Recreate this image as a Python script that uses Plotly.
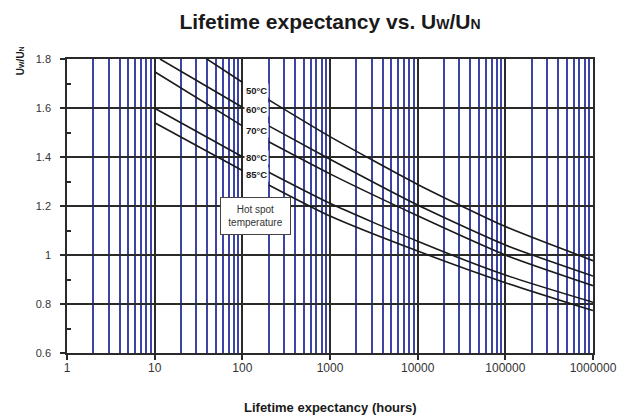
import numpy as np
import plotly.graph_objects as go

# ---- data ----
temps = ["50°C", "60°C", "70°C", "80°C", "85°C"]

# left segments (before label gap)
left_x = {
    "50°C": [34, 100],
    "60°C": [11.5, 100],
    "70°C": [10, 100],
    "80°C": [10, 100],
    "85°C": [10, 100],
}
left_y = {
    "50°C": [1.815, 1.705],
    "60°C": [1.80, 1.603],
    "70°C": [1.748, 1.527],
    "80°C": [1.599, 1.401],
    "85°C": [1.540, 1.345],
}
# right segments (after label gap)
right_x = [200, 1000, 10000, 100000, 1000000]
right_y = {
    "50°C": [1.633, 1.483, 1.288, 1.116, 0.977],
    "60°C": [1.527, 1.391, 1.204, 1.041, 0.914],
    "70°C": [1.462, 1.331, 1.160, 1.000, 0.875],
    "80°C": [1.338, 1.211, 1.056, 0.918, 0.807],
    "85°C": [1.286, 1.159, 1.016, 0.887, 0.773],
}
label_y = {"50°C": 1.673, "60°C": 1.592, "70°C": 1.510, "80°C": 1.396, "85°C": 1.327}

x_tickvals = [1, 10, 100, 1000, 10000, 100000, 1000000]
x_ticktext = ["1", "10", "100", "1000", "10000", "100000", "1000000"]
y_tickvals = [0.6, 0.8, 1.0, 1.2, 1.4, 1.6, 1.8]
y_ticktext = ["0.6", "0.8", "1", "1.2", "1.4", "1.6", "1.8"]

FONT = "Liberation Sans, Arial, sans-serif"
BLACK = "#2a2a2a"
BLUE = "#3c45a6"

# page body has an 8px margin: figure is drawn 8px right/down of the window origin
W, H = 622, 410

fig = go.Figure()
for t in temps:
    xs = left_x[t] + [None] + right_x
    ys = left_y[t] + [None] + right_y[t]
    fig.add_trace(go.Scatter(x=xs, y=ys, mode="lines", connectgaps=False,
                             line=dict(color="#1a1a1a", width=1.6, shape="spline", smoothing=0.6),
                             showlegend=False, hoverinfo="skip"))

# invisible trace for secondary y axis (inside ticks)
fig.add_trace(go.Scatter(x=[1], y=[1], yaxis="y2", mode="markers",
                         marker=dict(opacity=0), showlegend=False, hoverinfo="skip"))

annotations = []
for t in temps:
    annotations.append(dict(x=np.log10(104), y=label_y[t], xref="x", yref="y",
                            text="<b>%s</b>" % t, showarrow=False, xanchor="left", yanchor="middle",
                            font=dict(family=FONT, size=9.5, color="#1a1a1a"),
                            bgcolor="white", borderpad=1))
annotations.append(dict(x=np.log10(142), y=1.159, xref="x", yref="y",
                        text="Hot spot<br>temperature", showarrow=False,
                        xanchor="center", yanchor="middle",
                        font=dict(family=FONT, size=10, color="#333333"),
                        bgcolor="white", bordercolor="#444444", borderwidth=1, borderpad=2,
                        width=65, height=32))
# y title (top-left, rotated)
annotations.append(dict(x=-0.089, y=0.993, xref="paper", yref="paper",
                        text='<b>U<span style="font-size:7px">W</span>/U<span style="font-size:7px">N</span></b>',
                        textangle=-90, showarrow=False, xanchor="center", yanchor="middle",
                        font=dict(family=FONT, size=10, color="#1a1a1a")))
# x title
annotations.append(dict(x=0.5, y=-0.187, xref="paper", yref="paper",
                        text="<b>Lifetime expectancy (hours)</b>", showarrow=False,
                        xanchor="center", yanchor="middle",
                        font=dict(family=FONT, size=13, color="#1a1a1a")))

fig.update_layout(
    width=W, height=H,
    margin=dict(l=59, r=37, t=51, b=65),
    paper_bgcolor="white", plot_bgcolor="white",
    title=dict(text='<b>Lifetime expectancy vs. U<span style="font-size:14px">W</span>/U<span style="font-size:14px">N</span></b>',
               x=0.5, xref="paper", y=1 - 14 / H, yanchor="middle", xanchor="center",
               font=dict(family=FONT, size=21, color="#1a1a1a")),
    xaxis=dict(type="log", range=[0, 6], tickvals=x_tickvals, ticktext=x_ticktext,
               showgrid=True, gridcolor=BLACK, gridwidth=1.5,
               minor=dict(dtick="D1", showgrid=True, gridcolor=BLUE, gridwidth=1.5, ticks=""),
               ticks="outside", ticklen=5, tickcolor=BLACK, tickwidth=1.5,
               ticklabelstandoff=-2,
               showline=True, linecolor=BLACK, linewidth=1.5, mirror=True,
               tickfont=dict(family=FONT, size=12, color="#333333"), zeroline=False),
    yaxis=dict(range=[0.6, 1.8], tickvals=y_tickvals, ticktext=y_ticktext,
               showgrid=True, gridcolor=BLACK, gridwidth=1.5,
               ticks="outside", ticklen=5, tickcolor=BLACK, tickwidth=1.5,
               ticklabelstandoff=7,
               showline=True, linecolor=BLACK, linewidth=1.5, mirror=True,
               tickfont=dict(family=FONT, size=11, color="#333333"), zeroline=False),
    yaxis2=dict(range=[0.6, 1.8], overlaying="y", side="left", dtick=0.1, tick0=0.6,
                ticks="inside", ticklen=4, tickcolor=BLACK, tickwidth=1.5,
                showticklabels=False, showgrid=False, zeroline=False, showline=False),
    annotations=annotations,
)

fig.write_html("out.html")
